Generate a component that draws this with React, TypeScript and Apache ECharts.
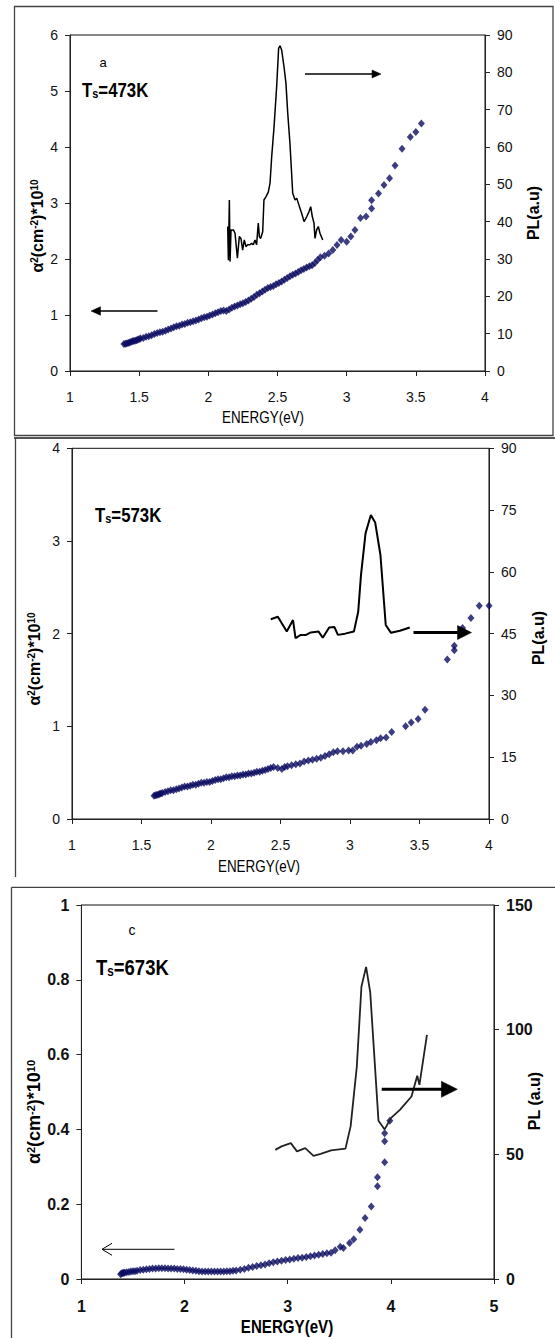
import React, { useEffect, useRef } from "react";
import * as echarts from "echarts";

const SANS = '"Liberation Sans", Arial, "DejaVu Sans", sans-serif';

// ---------- Panel a : Ts = 473K ----------
const energyA = [1.39, 1.4, 1.41, 1.42, 1.43, 1.44, 1.45, 1.46, 1.47, 1.48, 1.49, 1.5, 1.51, 1.53, 1.55, 1.57, 1.59, 1.61, 1.63, 1.65, 1.67, 1.69, 1.71, 1.73, 1.75, 1.77, 1.79, 1.81, 1.83, 1.85, 1.87, 1.89, 1.91, 1.93, 1.95, 1.97, 1.99, 2.01, 2.03, 2.05, 2.07, 2.09, 2.11, 2.13, 2.15, 2.17, 2.19, 2.21, 2.23, 2.25, 2.27, 2.29, 2.31, 2.33, 2.35, 2.37, 2.39, 2.41, 2.43, 2.45, 2.47, 2.49, 2.51, 2.53, 2.55, 2.57, 2.59, 2.61, 2.63, 2.65, 2.67, 2.69, 2.71, 2.73, 2.75, 2.77, 2.79, 2.81, 2.84, 2.87, 2.9, 2.93, 2.96, 3.0, 3.03, 3.06, 3.1, 3.14, 3.18, 3.18, 3.23, 3.27, 3.31, 3.35, 3.4, 3.46, 3.5, 3.54];
const alphaA = [0.48, 0.485, 0.49, 0.5, 0.51, 0.52, 0.53, 0.535, 0.54, 0.55, 0.56, 0.57, 0.58, 0.59, 0.61, 0.62, 0.64, 0.66, 0.68, 0.69, 0.7, 0.72, 0.74, 0.76, 0.78, 0.8, 0.81, 0.83, 0.84, 0.86, 0.87, 0.89, 0.9, 0.92, 0.94, 0.96, 0.97, 0.99, 1.01, 1.03, 1.05, 1.07, 1.08, 1.07, 1.1, 1.13, 1.15, 1.17, 1.19, 1.21, 1.23, 1.26, 1.29, 1.32, 1.36, 1.39, 1.42, 1.45, 1.48, 1.5, 1.52, 1.55, 1.57, 1.6, 1.63, 1.66, 1.69, 1.72, 1.74, 1.77, 1.8, 1.82, 1.85, 1.87, 1.89, 1.93, 1.98, 2.03, 2.06, 2.1, 2.16, 2.25, 2.34, 2.31, 2.4, 2.52, 2.73, 2.76, 2.9, 3.05, 3.17, 3.32, 3.44, 3.67, 3.97, 4.18, 4.27, 4.42];
const plEnergyA = [2.14, 2.145, 2.152, 2.157, 2.164, 2.181, 2.193, 2.21, 2.224, 2.236, 2.248, 2.26, 2.272, 2.284, 2.301, 2.313, 2.325, 2.337, 2.349, 2.361, 2.369, 2.378, 2.393, 2.402, 2.417, 2.434, 2.446, 2.458, 2.475, 2.494, 2.508, 2.518, 2.53, 2.547, 2.561, 2.574, 2.59, 2.61, 2.627, 2.639, 2.651, 2.675, 2.692, 2.711, 2.728, 2.74, 2.752, 2.764, 2.771, 2.783, 2.795, 2.807, 2.827];
const plA = [38.7, 29.7, 45.8, 29.3, 37.8, 37.8, 36.9, 30.2, 36.0, 35.5, 32.4, 35.1, 33.3, 33.8, 33.8, 34.2, 33.8, 35.1, 33.8, 39.6, 36.0, 35.5, 37.3, 45.8, 46.7, 48.0, 50.3, 57.4, 65.4, 76.2, 86.4, 87.1, 86.0, 81.5, 77.1, 69.0, 61.0, 47.6, 45.8, 46.3, 44.9, 42.2, 40.0, 41.3, 42.7, 44.0, 41.3, 39.6, 35.5, 37.8, 38.7, 36.9, 35.1];

// ---------- Panel b : Ts = 573K ----------
const energyB = [1.59, 1.6, 1.61, 1.62, 1.63, 1.64, 1.65, 1.67, 1.69, 1.71, 1.73, 1.75, 1.77, 1.79, 1.81, 1.83, 1.85, 1.87, 1.89, 1.91, 1.93, 1.95, 1.97, 1.99, 2.01, 2.03, 2.05, 2.07, 2.09, 2.11, 2.13, 2.15, 2.17, 2.19, 2.21, 2.23, 2.25, 2.27, 2.29, 2.31, 2.33, 2.35, 2.37, 2.39, 2.41, 2.43, 2.45, 2.48, 2.51, 2.53, 2.55, 2.58, 2.61, 2.64, 2.67, 2.7, 2.73, 2.76, 2.79, 2.82, 2.85, 2.88, 2.91, 2.95, 2.99, 3.02, 3.05, 3.08, 3.12, 3.15, 3.19, 3.22, 3.26, 3.3, 3.4, 3.44, 3.49, 3.54, 3.7, 3.75, 3.75, 3.81, 3.87, 3.93, 4.0];
const alphaB = [0.25, 0.255, 0.26, 0.265, 0.27, 0.275, 0.28, 0.29, 0.3, 0.31, 0.31, 0.32, 0.33, 0.34, 0.35, 0.35, 0.36, 0.37, 0.37, 0.38, 0.39, 0.39, 0.4, 0.4, 0.41, 0.42, 0.43, 0.43, 0.44, 0.45, 0.45, 0.46, 0.46, 0.47, 0.47, 0.48, 0.48, 0.49, 0.49, 0.5, 0.51, 0.51, 0.52, 0.53, 0.54, 0.55, 0.56, 0.55, 0.54, 0.56, 0.57, 0.58, 0.59, 0.6, 0.62, 0.63, 0.64, 0.65, 0.66, 0.68, 0.7, 0.72, 0.73, 0.73, 0.74, 0.74, 0.78, 0.79, 0.81, 0.83, 0.85, 0.87, 0.88, 0.94, 1.0, 1.04, 1.08, 1.18, 1.72, 1.82, 1.87, 2.06, 2.17, 2.3, 2.3];
const plEnergyB = [2.43, 2.481, 2.545, 2.59, 2.608, 2.646, 2.684, 2.718, 2.774, 2.804, 2.85, 2.888, 2.913, 2.964, 3.028, 3.059, 3.079, 3.112, 3.15, 3.181, 3.219, 3.257, 3.295, 3.359, 3.43];
const plB = [48.5, 49.1, 45.5, 48.3, 43.9, 44.7, 44.7, 45.3, 45.5, 44.0, 46.5, 46.6, 44.7, 45.0, 45.5, 50.3, 59.2, 69.4, 73.8, 72.0, 64.1, 47.1, 45.2, 45.7, 46.5];

// ---------- Panel c : Ts = 673K ----------
const energyC = [1.38, 1.39, 1.4, 1.41, 1.42, 1.44, 1.46, 1.48, 1.5, 1.52, 1.54, 1.57, 1.6, 1.63, 1.66, 1.69, 1.72, 1.75, 1.78, 1.81, 1.84, 1.87, 1.9, 1.93, 1.96, 1.99, 2.02, 2.05, 2.08, 2.11, 2.14, 2.17, 2.2, 2.23, 2.26, 2.29, 2.32, 2.35, 2.38, 2.41, 2.44, 2.47, 2.5, 2.54, 2.58, 2.62, 2.66, 2.7, 2.74, 2.78, 2.82, 2.86, 2.9, 2.94, 2.98, 3.02, 3.06, 3.1, 3.14, 3.18, 3.22, 3.26, 3.3, 3.34, 3.38, 3.42, 3.46, 3.51, 3.54, 3.6, 3.64, 3.7, 3.75, 3.81, 3.87, 3.87, 3.94, 3.94, 3.94, 3.99];
const alphaC = [0.013, 0.015, 0.016, 0.017, 0.017, 0.018, 0.019, 0.02, 0.021, 0.021, 0.022, 0.024, 0.025, 0.026, 0.027, 0.028, 0.028, 0.029, 0.029, 0.029, 0.028, 0.028, 0.028, 0.027, 0.027, 0.026, 0.025, 0.024, 0.023, 0.022, 0.021, 0.02, 0.02, 0.02, 0.02, 0.02, 0.02, 0.02, 0.02, 0.021, 0.021, 0.022, 0.023, 0.025, 0.027, 0.03, 0.032, 0.035, 0.037, 0.039, 0.042, 0.045, 0.047, 0.049, 0.051, 0.052, 0.054, 0.056, 0.057, 0.059, 0.061, 0.063, 0.065, 0.067, 0.069, 0.07, 0.077, 0.086, 0.083, 0.096, 0.106, 0.132, 0.163, 0.194, 0.248, 0.272, 0.312, 0.368, 0.39, 0.423];
const plEnergyC = [2.88, 2.94, 3.03, 3.09, 3.17, 3.25, 3.32, 3.42, 3.56, 3.61, 3.67, 3.715, 3.76, 3.8, 3.88, 3.94, 4.0, 4.09, 4.2, 4.256, 4.277, 4.35];
const plC = [51.8, 53.2, 54.5, 51.2, 52.5, 49.4, 50.2, 51.6, 52.3, 61.2, 85.2, 117.3, 125.2, 115.0, 63.5, 60.0, 64.5, 67.9, 73.2, 81.5, 77.9, 97.9];

// ---------- axis ranges [min, max, interval] ----------
const xRangeAB = [1, 4, 0.5];
const xRangeC = [1, 5, 1];
const leftRangeA = [0, 6, 1];
const rightRangeA = [0, 90, 10];
const leftRangeB = [0, 4, 1];
const rightRangeB = [0, 90, 15];
const leftRangeC = [0, 1, 0.2];
const rightRangeC = [0, 150, 50];

const MARK = "#0c0c62";
const FRAME = "#444";
const NARROW_SCALE = 0.84;

function arrow(tail: number, tip: number, y: number, lw: number, headLen: number, headHalf: number, open = false): any[] {
  const dir = tip > tail ? 1 : -1;
  const base = tip - dir * headLen;
  const els: any[] = [];
  els.push({
    type: "line",
    z: 50,
    shape: { x1: tail, y1: y, x2: open ? tip : base + dir * 1, y2: y },
    style: { stroke: "#000", lineWidth: lw },
  });
  if (open) {
    els.push({
      type: "polyline",
      z: 50,
      shape: { points: [[base, y - headHalf], [tip, y], [base, y + headHalf]] },
      style: { stroke: "#000", lineWidth: lw, fill: null },
    });
  } else {
    els.push({
      type: "polygon",
      z: 50,
      shape: { points: [[tip, y], [base, y - headHalf], [base, y + headHalf]] },
      style: { fill: "#000", stroke: "#000", lineWidth: 0.5 },
    });
  }
  return els;
}

function txt(x: number, y: number, text: string, rich: any, opts: any = {}): any {
  return {
    type: "text",
    z: 60,
    x,
    y,
    rotation: opts.rotation || 0,
    scaleX: opts.scaleX || 1,
    style: {
      text,
      rich,
      fill: "#000",
      align: opts.align || "center",
      verticalAlign: "middle",
      textAlign: opts.align || "center",
      textVerticalAlign: "middle",
    },
  };
}

function alphaName(x: number, y: number, fs: number): any {
  const sfs = Math.round(fs * 0.62);
  return txt(x, y, "{m|α}{s|2}{m|(cm}{s|-2}{m|)*10}{s|10}", {
    m: { fontFamily: SANS, fontWeight: "bold", fontSize: fs, fill: "#000" },
    s: { fontFamily: SANS, fontWeight: "bold", fontSize: sfs, fill: "#000", verticalAlign: "top" },
  }, { rotation: Math.PI / 2 });
}

function tsLabel(x: number, y: number, value: string, fs: number): any {
  return txt(x, y, "{t|T}{s|s}{t|=" + value + "}", {
    t: { fontFamily: SANS, fontWeight: "bold", fontSize: fs, fill: "#000" },
    s: { fontFamily: SANS, fontWeight: "bold", fontSize: Math.round(fs * 0.65), fill: "#000", verticalAlign: "bottom" },
  }, { align: "left", scaleX: NARROW_SCALE });
}

function plain(x: number, y: number, text: string, fs: number, weight: string, rotation = 0, scaleX = 1): any {
  return txt(x, y, "{m|" + text + "}", { m: { fontFamily: SANS, fontWeight: weight, fontSize: fs, fill: "#000" } }, { rotation, scaleX });
}

function buildOption(p: any): any {
  const axisLabel = (margin: number) => ({
    margin,
    fontFamily: SANS,
    fontSize: p.tickFs,
    fontWeight: p.tickWeight,
    color: "#111",
  });
  const axisCommon = {
    type: "value",
    splitLine: { show: false },
    axisLine: { show: true, onZero: false, lineStyle: { color: "#222", width: 1 } },
    axisTick: { show: true, inside: false, length: 5, lineStyle: { color: "#222", width: 1 } },
  };
  return {
    animation: false,
    backgroundColor: "#fff",
    grid: {
      left: p.grid[0],
      right: p.grid[1],
      top: p.grid[2],
      bottom: p.grid[3],
      show: true,
      borderColor: "#111",
      borderWidth: 1,
      backgroundColor: "transparent",
    },
    xAxis: {
      ...axisCommon,
      min: p.xRange[0],
      max: p.xRange[1],
      interval: p.xRange[2],
      axisLabel: axisLabel(19),
    },
    yAxis: [
      {
        ...axisCommon,
        position: "left",
        min: p.left[0],
        max: p.left[1],
        interval: p.left[2],
        axisLabel: axisLabel(12),
      },
      {
        ...axisCommon,
        position: "right",
        min: p.right[0],
        max: p.right[1],
        interval: p.right[2],
        axisLabel: axisLabel(12),
      },
    ],
    series: [
      {
        type: "line",
        yAxisIndex: 1,
        data: p.plE.map((e: number, i: number) => [e, p.pl[i]]),
        showSymbol: false,
        symbol: "none",
        lineStyle: { color: p.lineColor, width: p.lineWidth },
        z: 3,
      },
      {
        type: "scatter",
        yAxisIndex: 0,
        data: p.e.map((e: number, i: number) => [e, p.a[i]]),
        symbol: "diamond",
        symbolSize: [7, 8],
        itemStyle: { color: MARK },
        z: 2,
      },
    ],
    graphic: { elements: p.graphics },
  };
}

// ---------- panel options ----------
const optionA = buildOption({
  grid: [70, 70, 35, 66],
  xRange: xRangeAB,
  left: leftRangeA,
  right: rightRangeA,
  e: energyA,
  a: alphaA,
  plE: plEnergyA,
  pl: plA,
  tickFs: 14,
  tickWeight: "normal",
  lineColor: "#000",
  lineWidth: 1.5,
  graphics: [
    { type: "rect", z: 40, shape: { x: 14.5, y: 6.5, width: 538.5, height: 429 }, style: { fill: null, stroke: FRAME, lineWidth: 1.3 } },
    plain(103, 62, "a", 13, "normal"),
    tsLabel(82, 90, "473K", 20),
    alphaName(37, 226, 16),
    plain(533, 213, "PL(a.u)", 16, "bold", Math.PI / 2),
    plain(263, 418, "ENERGY(eV)", 16, "normal", 0, NARROW_SCALE),
    ...arrow(305, 381, 74, 1.3, 9, 4),
    ...arrow(157.5, 91, 311, 1.3, 9.5, 4.3),
  ],
});

const optionB = buildOption({
  grid: [72, 66, 11.3, 58],
  xRange: xRangeAB,
  left: leftRangeB,
  right: rightRangeB,
  e: energyB,
  a: alphaB,
  plE: plEnergyB,
  pl: plB,
  tickFs: 14,
  tickWeight: "normal",
  lineColor: "#000",
  lineWidth: 2,
  graphics: [
    { type: "line", z: 40, shape: { x1: 14, y1: 1, x2: 555, y2: 1 }, style: { stroke: "#555", lineWidth: 2 } },
    { type: "line", z: 40, shape: { x1: 15.5, y1: 1, x2: 15.5, y2: 440 }, style: { stroke: FRAME, lineWidth: 1.3 } },
    tsLabel(95, 78, "573K", 20),
    alphaName(34, 222, 16),
    plain(538, 201, "PL(a.u)", 16, "bold", Math.PI / 2),
    plain(259, 430, "ENERGY(eV)", 16, "normal", 0, NARROW_SCALE),
    ...arrow(413.5, 471.5, 195.6, 3, 14, 7),
  ],
});

const optionC = buildOption({
  grid: [81.4, 61, 25, 59],
  xRange: xRangeC,
  left: leftRangeC,
  right: rightRangeC,
  e: energyC,
  a: alphaC,
  plE: plEnergyC,
  pl: plC,
  tickFs: 16,
  tickWeight: "bold",
  lineColor: "#222",
  lineWidth: 1.8,
  graphics: [
    { type: "line", z: 40, shape: { x1: 11.5, y1: 7.3, x2: 555, y2: 7.3 }, style: { stroke: FRAME, lineWidth: 1.3 } },
    { type: "line", z: 40, shape: { x1: 11.5, y1: 7.3, x2: 11.5, y2: 458 }, style: { stroke: FRAME, lineWidth: 1.3 } },
    plain(132, 50, "c", 14, "normal"),
    tsLabel(96, 87, "673K", 22),
    alphaName(34, 232, 18),
    plain(534, 221, "PL (a.u)", 16, "bold", Math.PI / 2),
    plain(287, 447, "ENERGY(eV)", 18, "bold", 0, NARROW_SCALE),
    ...arrow(174.5, 102, 369.3, 1, 10, 6, true),
    ...arrow(381.7, 457.4, 209.3, 3, 16, 8),
  ],
});

function Panel({ option, top, height }: { option: any; top: number; height: number }) {
  const ref = useRef<HTMLDivElement>(null);
  useEffect(() => {
    if (!ref.current) return;
    const chart = echarts.init(ref.current, undefined, { renderer: "svg" });
    chart.setOption(option);
    return () => chart.dispose();
  }, [option]);
  return (
    <div
      ref={ref}
      style={{ position: "absolute", left: 0, top, width: 555, height, overflow: "hidden" }}
    />
  );
}

export default function App() {
  return (
    <div style={{ position: "absolute", left: 0, top: 0, width: 555, height: 1338, background: "#fff" }}>
      <Panel option={optionA} top={0} height={437} />
      <Panel option={optionB} top={437} height={440} />
      <Panel option={optionC} top={880} height={458} />
    </div>
  );
}
